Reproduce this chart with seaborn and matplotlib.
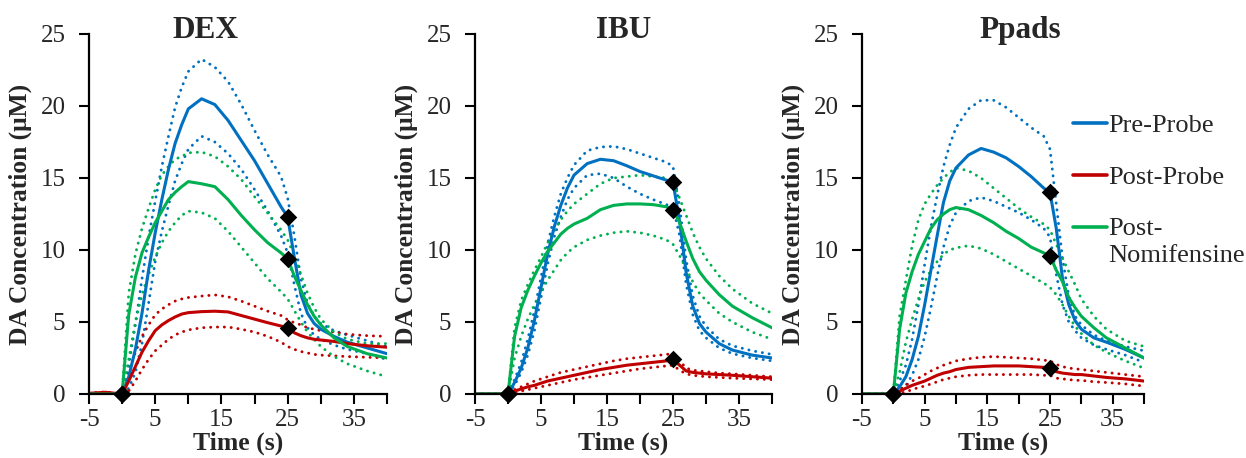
import matplotlib
matplotlib.use("Agg")
import matplotlib.pyplot as plt
from matplotlib.lines import Line2D
import numpy as np
import pandas as pd
import seaborn as sns

# Sampling times (s) shared by every trace
time_s = [-5, -2.5, 0, 1, 2, 3, 4, 5, 6, 7, 8, 9, 10, 12, 14, 16, 18, 20, 22,
          24, 25, 26, 27, 28, 29, 30, 32, 34, 37, 40]

# ---- DEX ----
dex_pre_mean = [0, 0, 0, 1.2, 3.1, 5.6, 8.6, 11.2, 13.5, 15.6, 17.4, 18.7, 19.8, 20.5, 20.1, 19.0, 17.6, 16.2, 14.6,
                13.0, 12.3, 9.5, 6.9, 5.6, 4.9, 4.5, 4.0, 3.6, 3.2, 2.8]
dex_pre_hi = [0, 0, 0, 2.0, 4.8, 8.0, 10.9, 13.4, 15.8, 17.9, 19.9, 21.3, 22.4, 23.25, 22.7, 21.7, 20.1, 18.3, 16.6,
              15.1, 13.6, 11.0, 8.0, 6.3, 5.4, 4.9, 4.4, 4.1, 3.7, 3.3]
dex_pre_lo = [0, 0, 0, 0.4, 1.5, 3.5, 6.3, 9.2, 11.3, 13.1, 14.8, 16.0, 17.0, 17.9, 17.5, 16.7, 15.6, 14.2, 12.7,
              11.0, 9.8, 7.6, 5.6, 4.6, 4.1, 3.8, 3.4, 3.1, 2.8, 2.4]
dex_post_mean = [0.05, 0.12, 0, 0.9, 1.9, 2.9, 3.7, 4.4, 4.8, 5.1, 5.35, 5.55, 5.65, 5.72, 5.75, 5.7, 5.45, 5.2, 4.95,
                 4.72, 4.6, 4.25, 4.05, 3.9, 3.8, 3.75, 3.65, 3.5, 3.35, 3.25]
dex_post_hi = [0.05, 0.15, 0, 1.5, 2.9, 4.0, 4.8, 5.5, 5.9, 6.2, 6.45, 6.6, 6.7, 6.8, 6.88, 6.75, 6.45, 6.1, 5.75,
               5.45, 5.15, 4.95, 4.8, 4.6, 4.5, 4.4, 4.3, 4.15, 4.05, 4.0]
dex_post_lo = [0.05, 0.1, 0, 0.2, 0.9, 1.7, 2.4, 3.0, 3.4, 3.8, 4.1, 4.3, 4.45, 4.6, 4.65, 4.65, 4.5, 4.3, 4.0,
               3.6, 3.3, 3.1, 2.95, 2.85, 2.75, 2.7, 2.65, 2.6, 2.55, 2.5]
dex_nomi_mean = [0, 0, 0, 5.5, 8.1, 9.8, 10.9, 11.9, 12.7, 13.5, 14.0, 14.4, 14.75, 14.6, 14.4, 13.5, 12.4, 11.4, 10.5,
                 9.8, 9.4, 8.2, 7.2, 6.2, 5.4, 4.8, 3.9, 3.3, 2.8, 2.5]
dex_nomi_hi = [0, 0, 0, 7.0, 9.7, 11.5, 12.9, 14.2, 15.2, 15.8, 16.3, 16.5, 16.75, 16.8, 16.5, 15.8, 14.9, 13.7, 12.55,
               11.4, 10.7, 9.6, 8.3, 7.0, 6.0, 5.2, 4.3, 3.8, 3.5, 3.5]
dex_nomi_lo = [0, 0, 0, 2.4, 5.0, 6.9, 8.3, 9.5, 10.5, 11.3, 11.9, 12.4, 12.7, 12.6, 12.2, 11.3, 10.2, 9.1, 8.0,
               7.1, 6.6, 5.8, 5.0, 4.3, 3.8, 3.3, 2.6, 2.1, 1.6, 1.2]

# ---- IBU ----
ibu_pre_mean = [0, 0, 0, 0.8, 1.8, 3.2, 5.1, 7.4, 9.7, 11.6, 13.1, 14.3, 15.2, 16.0, 16.3, 16.2, 15.85, 15.45, 15.15,
                14.85, 14.7, 12.0, 8.4, 6.1, 4.9, 4.3, 3.5, 3.05, 2.7, 2.5]
ibu_pre_hi = [0, 0, 0, 1.0, 2.2, 3.8, 5.8, 8.1, 10.4, 12.3, 13.9, 15.0, 15.9, 16.9, 17.15, 17.2, 17.0, 16.7, 16.4,
              16.1, 15.8, 13.0, 9.3, 6.8, 5.4, 4.7, 3.8, 3.35, 3.0, 2.75]
ibu_pre_lo = [0, 0, 0, 0.6, 1.5, 2.7, 4.4, 6.7, 9.0, 10.9, 12.3, 13.5, 14.3, 15.2, 15.3, 15.0, 14.4, 13.9, 13.5,
              13.15, 13.0, 11.0, 7.6, 5.5, 4.4, 3.9, 3.2, 2.8, 2.5, 2.3]
ibu_post_mean = [0, 0, 0, 0.2, 0.35, 0.5, 0.6, 0.75, 0.9, 1.0, 1.1, 1.2, 1.3, 1.5, 1.7, 1.85, 2.0, 2.1, 2.2,
                 2.3, 2.4, 2.0, 1.6, 1.5, 1.45, 1.4, 1.35, 1.3, 1.2, 1.1]
ibu_post_hi = [0, 0, 0, 0.3, 0.5, 0.7, 0.9, 1.05, 1.2, 1.35, 1.5, 1.6, 1.7, 1.9, 2.1, 2.3, 2.45, 2.55, 2.65,
               2.75, 2.8, 2.3, 1.8, 1.65, 1.6, 1.55, 1.45, 1.4, 1.3, 1.2]
ibu_post_lo = [0, 0, 0, 0.1, 0.2, 0.3, 0.4, 0.5, 0.6, 0.7, 0.8, 0.9, 1.0, 1.15, 1.3, 1.45, 1.6, 1.75, 1.85,
               1.95, 2.0, 1.65, 1.4, 1.3, 1.25, 1.2, 1.15, 1.1, 1.05, 1.0]
ibu_nomi_mean = [0, 0, 0, 4.0, 6.0, 7.2, 8.2, 9.1, 9.9, 10.5, 11.1, 11.5, 11.8, 12.2, 12.8, 13.1, 13.2, 13.2, 13.15,
                 13.0, 12.8, 11.9, 10.6, 9.4, 8.5, 7.9, 6.9, 6.1, 5.3, 4.6]
ibu_nomi_hi = [0, 0, 0, 4.6, 6.5, 7.6, 8.6, 9.5, 10.5, 11.3, 12.1, 12.7, 13.2, 13.9, 14.6, 15.0, 15.1, 15.2, 15.1,
               15.0, 14.75, 13.6, 12.4, 11.2, 10.2, 9.4, 8.2, 7.3, 6.3, 5.6]
ibu_nomi_lo = [0, 0, 0, 2.5, 4.0, 5.2, 6.2, 7.1, 7.9, 8.6, 9.3, 9.8, 10.2, 10.7, 11.0, 11.2, 11.3, 11.2, 11.0,
               10.7, 10.4, 9.6, 8.7, 7.8, 7.0, 6.5, 5.6, 5.0, 4.3, 3.8]

# ---- Ppads ----
ppads_pre_mean = [0, 0, 0, 0.5, 1.2, 2.4, 4.0, 6.2, 8.6, 11.0, 13.3, 14.8, 15.7, 16.6, 17.05, 16.8, 16.4, 15.8, 15.1,
                  14.3, 14.0, 11.5, 8.0, 6.2, 5.1, 4.5, 3.9, 3.6, 3.1, 2.5]
ppads_pre_hi = [0, 0, 0, 0.9, 2.0, 3.8, 6.2, 9.0, 11.6, 13.8, 15.8, 17.3, 18.5, 19.8, 20.4, 20.4, 19.9, 19.2, 18.5,
                17.9, 17.0, 13.2, 9.4, 6.8, 5.4, 4.8, 4.1, 3.7, 3.3, 3.0]
ppads_pre_lo = [0, 0, 0, 0.2, 0.6, 1.3, 2.4, 4.0, 6.0, 8.2, 10.2, 11.7, 12.6, 13.4, 13.65, 13.4, 13.0, 12.6, 12.1,
                11.5, 10.9, 8.3, 6.2, 5.0, 4.4, 3.9, 3.4, 3.1, 2.7, 2.2]
ppads_post_mean = [0, 0, 0, 0.2, 0.4, 0.6, 0.75, 0.9, 1.1, 1.3, 1.45, 1.55, 1.7, 1.85, 1.9, 1.95, 1.95, 1.95, 1.9,
                   1.85, 1.8, 1.55, 1.45, 1.4, 1.35, 1.35, 1.25, 1.15, 1.05, 0.9]
ppads_post_hi = [0, 0.05, 0.05, 0.3, 0.6, 0.9, 1.1, 1.35, 1.6, 1.8, 2.0, 2.15, 2.3, 2.45, 2.55, 2.6, 2.55, 2.5, 2.45,
                 2.35, 2.3, 2.05, 1.9, 1.8, 1.75, 1.7, 1.6, 1.5, 1.35, 1.2]
ppads_post_lo = [0, 0, 0, 0.05, 0.15, 0.3, 0.45, 0.55, 0.7, 0.85, 1.0, 1.1, 1.2, 1.3, 1.35, 1.35, 1.35, 1.35, 1.35,
                 1.3, 1.3, 1.1, 1.05, 1.0, 0.95, 0.95, 0.85, 0.8, 0.7, 0.55]
ppads_nomi_mean = [0, 0, 0, 4.5, 7.0, 8.5, 9.7, 10.6, 11.5, 12.1, 12.5, 12.8, 12.95, 12.8, 12.4, 11.9, 11.3, 10.8, 10.2,
                   9.8, 9.6, 8.6, 7.8, 6.7, 6.0, 5.4, 4.6, 3.9, 3.2, 2.5]
ppads_nomi_hi = [0, 0, 0, 5.4, 7.9, 10.3, 12.1, 13.2, 13.9, 14.5, 15.0, 15.4, 15.7, 15.5, 15.0, 14.3, 13.6, 12.9, 12.3,
                 11.8, 11.4, 10.4, 9.4, 8.5, 7.6, 6.6, 5.4, 4.5, 3.7, 3.3]
ppads_nomi_lo = [0, 0, 0, 1.5, 3.6, 5.2, 6.6, 7.8, 8.6, 9.2, 9.7, 10.0, 10.15, 10.3, 10.1, 9.7, 9.2, 8.7, 8.2,
                 7.7, 7.4, 6.9, 6.2, 5.4, 4.7, 4.2, 3.4, 2.9, 2.3, 1.8]

panels = ["DEX", "IBU", "Ppads"]
conditions = ["Pre-Probe", "Post-Probe", "Post-Nomifensine"]
legend_labels = ["Pre-Probe", "Post-Probe", "Post-\nNomifensine"]
colors = {"Pre-Probe": "#0070C0", "Post-Probe": "#C00000", "Post-Nomifensine": "#00B050"}
y_ticks = [0, 5, 10, 15, 20, 25]
x_ticks = [-5, 5, 15, 25, 35]
x_minor = [0, 10, 20, 30, 40]
marker_times = [0, 25]

traces = {
    ("DEX", "Pre-Probe"): (dex_pre_mean, dex_pre_hi, dex_pre_lo),
    ("DEX", "Post-Probe"): (dex_post_mean, dex_post_hi, dex_post_lo),
    ("DEX", "Post-Nomifensine"): (dex_nomi_mean, dex_nomi_hi, dex_nomi_lo),
    ("IBU", "Pre-Probe"): (ibu_pre_mean, ibu_pre_hi, ibu_pre_lo),
    ("IBU", "Post-Probe"): (ibu_post_mean, ibu_post_hi, ibu_post_lo),
    ("IBU", "Post-Nomifensine"): (ibu_nomi_mean, ibu_nomi_hi, ibu_nomi_lo),
    ("Ppads", "Pre-Probe"): (ppads_pre_mean, ppads_pre_hi, ppads_pre_lo),
    ("Ppads", "Post-Probe"): (ppads_post_mean, ppads_post_hi, ppads_post_lo),
    ("Ppads", "Post-Nomifensine"): (ppads_nomi_mean, ppads_nomi_hi, ppads_nomi_lo),
}

rows = []
for (panel, cond), (mean, hi, lo) in traces.items():
    for stat, vals in (("mean", mean), ("upper", hi), ("lower", lo)):
        for t, v in zip(time_s, vals):
            rows.append({"panel": panel, "condition": cond, "stat": stat, "time": t, "value": v})
df = pd.DataFrame(rows)

sns.set_theme(style="ticks")
plt.rcParams["font.family"] = ["Liberation Serif", "DejaVu Serif"]
plt.rcParams["axes.unicode_minus"] = False

W, H = 1246, 458
fig = plt.figure(figsize=(W / 100, H / 100), dpi=100)

# axes boxes in pixels: (left, width)
boxes = [(89, 298), (475, 297), (862, 282)]
bottom_px, height_px = 64, 360
title_x = {"DEX": 0.39, "IBU": 0.5, "Ppads": 0.56}

dotted = (0, (0.05, 2.3))
for panel, (left, width) in zip(panels, boxes):
    ax = fig.add_axes([left / W, bottom_px / H, width / W, height_px / H])
    sub = df[df["panel"] == panel]
    for cond in conditions:
        c = colors[cond]
        for stat in ("upper", "lower"):
            d = sub[(sub["condition"] == cond) & (sub["stat"] == stat)]
            sns.lineplot(data=d, x="time", y="value", ax=ax, color=c, lw=2.1,
                         linestyle=dotted, dash_capstyle="round",
                         estimator=None, errorbar=None, sort=False)
    for cond in conditions:
        d = sub[(sub["condition"] == cond) & (sub["stat"] == "mean")]
        sns.lineplot(data=d, x="time", y="value", ax=ax, color=colors[cond], lw=2.2,
                     estimator=None, errorbar=None, sort=False)
    # diamonds at stimulation onset and offset
    for cond in conditions:
        d = sub[(sub["condition"] == cond) & (sub["stat"] == "mean") & (sub["time"].isin(marker_times))]
        ax.scatter(d["time"], d["value"], marker="D", s=80, color="black", zorder=5, clip_on=False,
                   linewidths=0)

    ax.set_xlim(-5, 40)
    ax.set_ylim(0, 25)
    ax.set_xticks(x_ticks)
    ax.set_xticks(x_minor, minor=True)
    ax.set_yticks(y_ticks)
    ax.tick_params(axis="both", which="both", direction="out", length=7, width=1.5, color="black")
    ax.tick_params(axis="y", labelsize=18, pad=10)
    ax.tick_params(axis="x", labelsize=18, pad=4)
    for s in ("top", "right"):
        ax.spines[s].set_visible(False)
    for s in ("left", "bottom"):
        ax.spines[s].set_linewidth(1.6)
        ax.spines[s].set_color("black")
    ax.set_xlabel("Time (s)", fontsize=18.5, fontweight="bold")
    ax.set_ylabel("DA Concentration (\u03bcM)", fontsize=18.4, fontweight="bold")
    ax.xaxis.set_label_coords(0.5, -0.105)
    ax.yaxis.set_label_coords(-57 / width, 0.5)
    ax.set_title(panel, fontsize=22.5, fontweight="bold", x=title_x[panel], y=0.99, pad=0)

handles = [Line2D([], [], color=colors[c], lw=2.6) for c in conditions]
leg = fig.legend(handles, legend_labels, loc="upper left", bbox_to_anchor=(1073 / W, 1 - 114 / H),
                 frameon=False, fontsize=19, handlelength=1.29, handletextpad=0.05,
                 labelspacing=1.08, borderpad=0, borderaxespad=0)
for txt in leg.get_texts():
    txt.set_linespacing(1.3)
# put the green key beside the first line of its two-line label
green_key = leg.get_lines()[2]
green_key.set_ydata(np.asarray(green_key.get_ydata()) + 10.5)

fig.savefig("out.png", dpi=100)
